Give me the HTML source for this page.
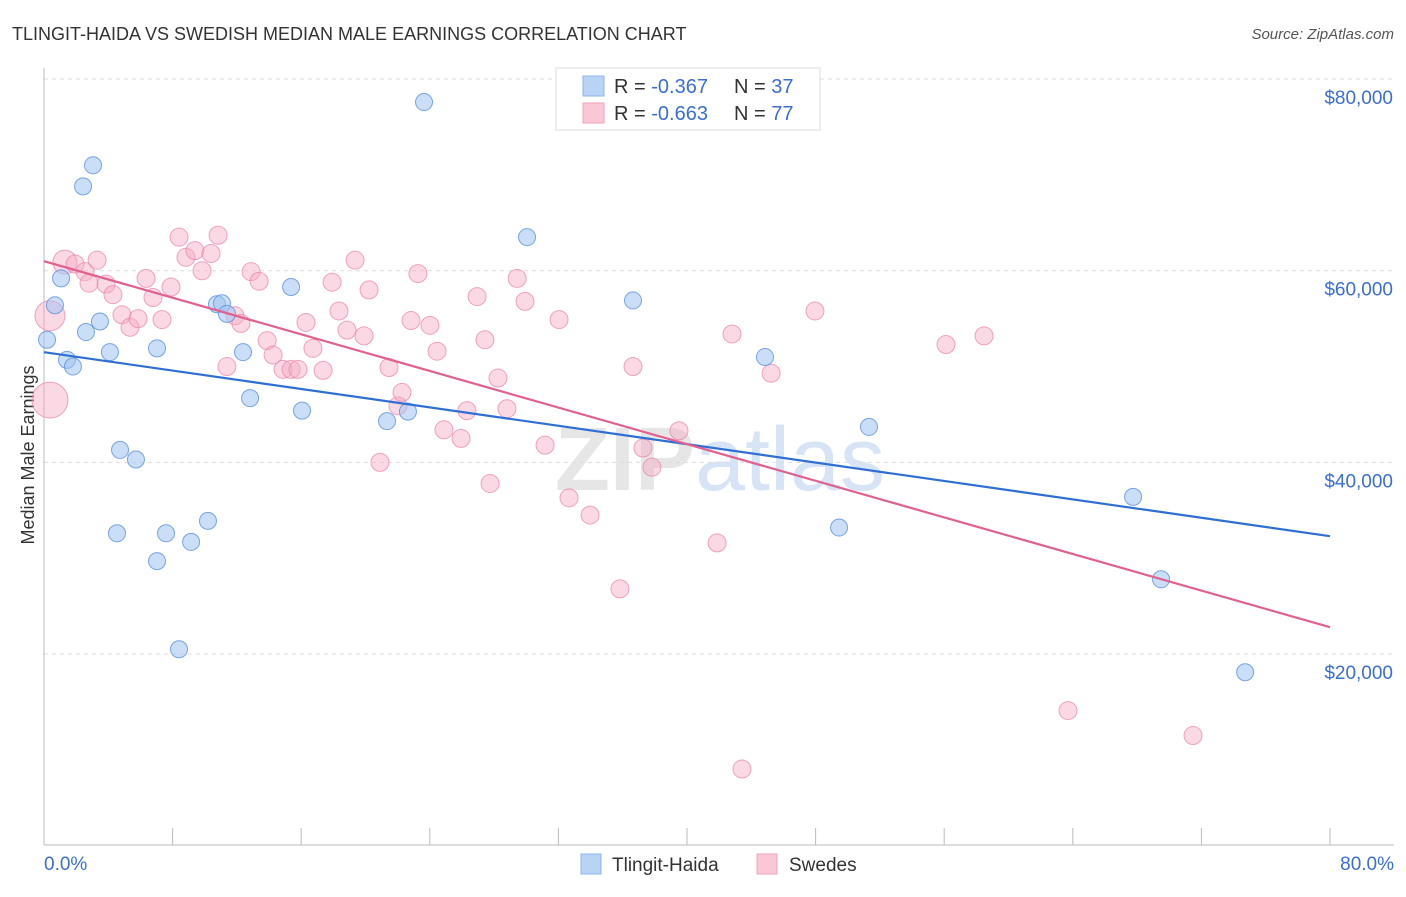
<!DOCTYPE html>
<html><head><meta charset="utf-8"><style>
body{margin:0;background:#fff;font-family:"Liberation Sans",sans-serif;}
svg text{font-family:"Liberation Sans",sans-serif;}
</style></head><body>
<svg id="chart" width="1406" height="892" xmlns="http://www.w3.org/2000/svg">
<text x="12" y="40" font-size="18" fill="#333">TLINGIT-HAIDA VS SWEDISH MEDIAN MALE EARNINGS CORRELATION CHART</text>
<text x="1394" y="39" font-size="15" fill="#555" font-style="italic" text-anchor="end">Source: ZipAtlas.com</text>
<text x="720" y="490" font-size="90" fill="#e6e6e6" text-anchor="middle" font-weight="bold">ZIP<tspan fill="#d6e4f5" font-weight="normal">atlas</tspan></text>
<text transform="translate(34,455) rotate(-90)" font-size="18" fill="#333" text-anchor="middle">Median Male Earnings</text>
<g id="grid"></g><g id="axes"></g><g id="pts"></g><g id="lines"></g>
<g>
<rect x="556" y="68" width="264" height="62" fill="#fff" stroke="#ddd"/>
<rect x="583" y="76" width="21" height="20" fill="#b9d3f5" stroke="#8db4ea"/>
<rect x="583" y="103" width="21" height="20" fill="#f9c7d6" stroke="#eea3ba"/>
<text x="614" y="93" font-size="20" fill="#333">R = <tspan fill="#3a6fd2">-0.367</tspan></text>
<text x="734" y="93" font-size="20" fill="#333">N = <tspan fill="#3a6fd2">37</tspan></text>
<text x="614" y="120" font-size="20" fill="#333">R = <tspan fill="#3a6fd2">-0.663</tspan></text>
<text x="734" y="120" font-size="20" fill="#333">N = <tspan fill="#3a6fd2">77</tspan></text>
</g>
<g>
<rect x="581" y="854" width="20" height="20" fill="#b9d3f5" stroke="#8db4ea"/>
<text x="612" y="871" font-size="19" fill="#333">Tlingit-Haida</text>
<rect x="757" y="854" width="20" height="20" fill="#f9c7d6" stroke="#eea3ba"/>
<text x="789" y="871" font-size="19" fill="#333">Swedes</text>
</g>
</svg>
<script>
const yTicks=[20000,40000,60000,80000];
const yTickLabels=["$20,000","$40,000","$60,000","$80,000"];
const xEnds=["0.0%","80.0%"];
const blueX=[0.19,0.68,1.06,1.43,1.8,2.43,3.05,2.61,3.48,4.1,4.73,5.72,4.54,7.03,7.03,7.59,8.4,9.15,10.2,10.76,11.07,11.38,12.38,12.82,15.37,16.05,21.34,22.64,23.64,30.05,36.64,44.85,49.46,51.32,67.75,69.49,74.72];
const blueY=[52.8,56.4,59.2,50.7,50.0,68.8,71.0,53.6,54.7,51.5,41.3,40.3,32.6,51.9,29.7,32.6,20.5,31.7,33.9,56.5,56.6,55.5,51.5,46.7,58.3,45.4,44.3,45.3,77.6,63.5,56.9,51.0,33.2,43.7,36.4,27.8,18.1];
const pinkX=[0.37,0.37,1.3,1.93,2.55,2.8,3.3,3.86,4.29,4.85,5.35,5.85,6.35,6.78,7.34,7.9,8.4,8.83,9.39,9.83,10.39,10.83,11.38,11.88,12.25,12.88,13.38,13.88,14.25,14.87,15.37,15.8,16.3,16.73,17.36,17.92,18.35,18.85,19.35,19.91,20.22,20.9,21.46,22.02,22.27,22.83,23.26,24.01,24.45,24.88,25.94,26.31,26.94,27.43,27.75,28.24,28.8,29.43,29.92,31.17,32.04,32.66,33.97,35.83,36.64,37.26,37.82,39.5,41.87,42.8,43.42,45.23,47.96,56.11,58.48,63.7,71.48];
const pinkY=[55.3,46.5,60.9,60.7,59.9,58.7,61.1,58.6,57.5,55.4,54.1,55.0,59.2,57.2,54.9,58.3,63.5,61.4,62.1,60.0,61.8,63.7,50.0,55.3,54.5,59.9,58.9,52.7,51.2,49.7,49.7,49.7,54.6,51.9,49.6,58.8,55.8,53.8,61.1,53.2,58.0,40.0,49.9,45.9,47.3,54.8,59.7,54.3,51.6,43.4,42.5,45.4,57.3,52.8,37.8,48.8,45.6,59.2,56.8,41.8,54.9,36.3,34.5,26.8,50.0,41.5,39.5,43.3,31.6,53.4,8.0,49.3,55.8,52.3,53.2,14.1,11.5];
const pinkR=[15,18,12];
const blueLine=[51.5,32.3];
const pinkLine=[61.0,22.8];
const NS="http://www.w3.org/2000/svg";
const X=v=>44+v/80*1286;
const Y=v=>845.7-v*9.583;
function mk(p,t,a){const e=document.createElementNS(NS,t);for(const k in a)e.setAttribute(k,a[k]);document.getElementById(p).appendChild(e);return e;}
yTicks.forEach((t,i)=>{
 const l=mk('grid','line',{x1:44,x2:1394,y1:Y(t/1000),y2:Y(t/1000),stroke:'#ddd','stroke-dasharray':'4,4'});
 
 
 const tx=mk('grid','text',{x:1393,y:Y(t/1000)+25,'font-size':19,fill:'#3a6fd2','text-anchor':'end'});
 tx.textContent=yTickLabels[i];
 
 
});
const ax=mk('axes','line',{x1:44,x2:44,y1:68,y2:845,stroke:'#bbb'});


const bx=mk('axes','line',{x1:44,x2:1394,y1:845,y2:845,stroke:'#bbb'});


for(let v=0;v<=80;v+=8){const t=mk('axes','line',{x1:X(v),x2:X(v),y1:828,y2:845,stroke:'#bbb'});
 
 }
[[0,'start',44],[80,'end',1394]].forEach((d,i)=>{const t=mk('axes','text',{x:d[2],y:870,'font-size':19,fill:'#3a6fd2','text-anchor':d[1]});t.textContent=xEnds[i];
 
 });
pinkX.forEach((v,i)=>{const c=mk('pts','circle',{cx:X(v),cy:Y(pinkY[i]),r:pinkR[i]||9,fill:'rgba(245,170,195,0.45)',stroke:'rgba(232,130,165,0.7)','stroke-width':1});
 
 });
blueX.forEach((v,i)=>{const c=mk('pts','circle',{cx:X(v),cy:Y(blueY[i]),r:8.5,fill:'rgba(160,195,240,0.55)',stroke:'rgba(90,145,220,0.8)','stroke-width':1});
 
 });
const bl=mk('lines','line',{x1:X(0),x2:X(80),y1:Y(blueLine[0]),y2:Y(blueLine[1]),stroke:'#2f6fd4','stroke-width':2.2});


const pl=mk('lines','line',{x1:X(0),x2:X(80),y1:Y(pinkLine[0]),y2:Y(pinkLine[1]),stroke:'#e0608e','stroke-width':2.2});


</script>
</body></html>
